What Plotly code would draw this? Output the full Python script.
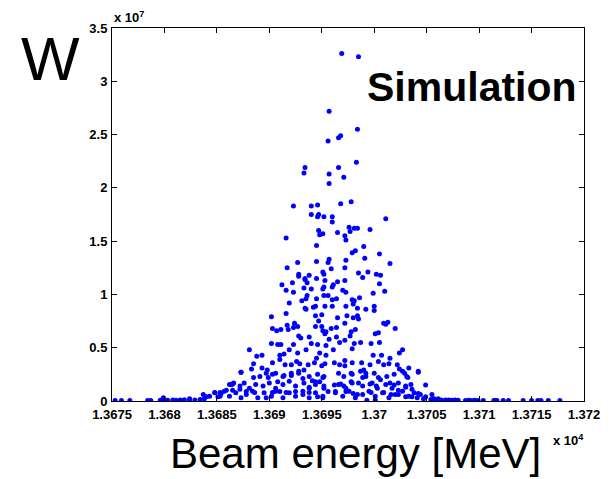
import plotly.graph_objects as go

# Beam energy in MeV, weight W in units of 1e7
peak_energy = [13696.9, 13698.5, 13695.7, 13698.4, 13696.8, 13696.6, 13695.6, 13693.4, 13693.3, 13696.6,
               13698.3, 13695.7, 13697.1, 13695.7, 13692.3, 13694.0, 13694.6, 13696.8, 13697.8, 13694.0,
               13694.7, 13694.6, 13695.2, 13696.0, 13701.1]
peak_w = [3.26, 3.23, 2.72, 2.55, 2.49, 2.47, 2.44, 2.19, 2.14, 2.19,
          2.24, 2.13, 2.10, 2.04, 1.83, 1.83, 1.84, 1.85, 1.87, 1.75,
          1.75, 1.73, 1.73, 1.73, 1.71]

upper_energy = [13696.0, 13691.6, 13694.7, 13695.1, 13694.8, 13696.5, 13697.7, 13697.2, 13697.6, 13698.1,
                13698.4, 13699.6, 13697.3, 13694.5, 13699.0, 13698.2, 13697.9, 13700.5, 13699.1, 13701.5,
                13692.7, 13694.5, 13695.7, 13695.6, 13697.3, 13691.7, 13695.9, 13697.2, 13692.8, 13692.8,
                13693.4, 13693.8, 13694.5, 13695.1, 13695.2, 13695.3, 13696.1, 13696.5, 13697.2, 13698.5,
                13698.9, 13699.4, 13700.2, 13700.6, 13700.5, 13691.2, 13692.2, 13691.6, 13692.3, 13693.4,
                13693.6, 13693.3, 13694.0, 13695.1, 13695.2, 13696.0, 13695.2, 13695.6, 13696.0, 13696.4,
                13697.0, 13697.3, 13697.9, 13698.6, 13699.9, 13701.0, 13693.1, 13693.6, 13693.5, 13694.5,
                13698.1]
upper_w = [1.68, 1.53, 1.60, 1.57, 1.56, 1.58, 1.59, 1.55, 1.63, 1.62,
           1.62, 1.61, 1.51, 1.46, 1.45, 1.41, 1.39, 1.38, 1.34, 1.29,
           1.30, 1.31, 1.33, 1.30, 1.32, 1.25, 1.24, 1.25, 1.19, 1.17,
           1.15, 1.18, 1.15, 1.21, 1.19, 1.13, 1.09, 1.12, 1.13, 1.20,
           1.16, 1.21, 1.19, 1.18, 1.10, 1.09, 1.11, 1.04, 1.02, 1.14,
           1.11, 1.06, 1.05, 1.05, 1.07, 1.07, 0.99, 0.99, 0.95, 0.96,
           1.04, 1.02, 0.95, 0.97, 1.01, 1.03, 0.94, 0.99, 0.96, 0.96,
           0.94]

mid_energy = [13691.9, 13693.5, 13693.4, 13694.2, 13694.4, 13695.3, 13696.0, 13697.3, 13698.0, 13698.4,
              13699.2, 13700.0, 13700.0, 13690.2, 13691.6, 13692.4, 13692.7, 13691.8, 13692.3, 13694.4,
              13695.0, 13694.7, 13694.4, 13695.0, 13695.1, 13695.4, 13695.3, 13695.9, 13696.4, 13696.5,
              13697.4, 13697.2, 13698.0, 13698.4, 13698.5, 13697.8, 13698.2, 13700.9, 13701.3, 13702.0,
              13700.1, 13700.4, 13690.7, 13690.3, 13691.1, 13691.7, 13690.2, 13690.8, 13691.1, 13691.4,
              13691.9, 13692.3, 13692.7, 13692.8, 13693.0, 13693.8, 13694.0, 13693.5, 13694.6, 13694.8,
              13695.4, 13695.7, 13696.4, 13696.7, 13696.1, 13695.4, 13697.2, 13697.7, 13698.1, 13698.7,
              13697.9, 13699.7, 13700.5, 13699.9, 13700.7, 13701.5, 13702.4, 13702.7, 13688.1, 13688.8,
              13689.3, 13691.0, 13694.5, 13701.1]
mid_w = [0.92, 0.86, 0.87, 0.88, 0.89, 0.89, 0.89, 0.89, 0.91, 0.87,
         0.86, 0.89, 0.85, 0.79, 0.82, 0.73, 0.70, 0.67, 0.69, 0.80,
         0.81, 0.75, 0.70, 0.70, 0.66, 0.65, 0.63, 0.68, 0.69, 0.78,
         0.80, 0.73, 0.78, 0.80, 0.77, 0.65, 0.67, 0.73, 0.74, 0.68,
         0.63, 0.64, 0.66, 0.68, 0.67, 0.71, 0.54, 0.53, 0.53, 0.44,
         0.48, 0.53, 0.45, 0.61, 0.59, 0.60, 0.54, 0.48, 0.53, 0.45,
         0.52, 0.58, 0.60, 0.55, 0.48, 0.43, 0.57, 0.61, 0.54, 0.55,
         0.49, 0.54, 0.55, 0.43, 0.43, 0.40, 0.45, 0.48, 0.48, 0.42,
         0.43, 0.43, 0.40, 0.72]

low_energy = [13688.5, 13689.3, 13690.3, 13691.0, 13691.5, 13692.1, 13692.6, 13692.9, 13693.3, 13693.7,
              13694.3, 13695.0, 13695.3, 13696.2, 13696.7, 13697.2, 13697.2, 13697.9, 13697.8, 13698.8,
              13699.0, 13699.6, 13700.4, 13700.9, 13701.4, 13702.2, 13702.4, 13702.9, 13703.2, 13704.2,
              13687.3, 13688.3, 13688.5, 13689.1, 13689.8, 13689.9, 13690.6, 13691.4, 13692.1, 13692.8,
              13693.2, 13695.2, 13698.9, 13699.2, 13700.6, 13703.3,
              13687.3, 13689.7, 13690.3, 13691.3, 13692.1, 13692.8, 13693.8, 13694.6, 13695.1, 13696.6,
              13697.1, 13697.9, 13698.7, 13699.2, 13700.0, 13700.4, 13701.2, 13701.9, 13702.7, 13703.1,
              13704.2]
low_w = [0.35, 0.31, 0.36, 0.39, 0.34, 0.34, 0.37, 0.35, 0.29, 0.34,
         0.36, 0.33, 0.35, 0.36, 0.34, 0.33, 0.38, 0.36, 0.26, 0.36,
         0.29, 0.34, 0.37, 0.34, 0.35, 0.34, 0.30, 0.26, 0.22, 0.27,
         0.27, 0.30, 0.22, 0.23, 0.29, 0.22, 0.26, 0.24, 0.24, 0.26,
         0.21, 0.23, 0.22, 0.26, 0.20, 0.31,
         0.27, 0.26, 0.25, 0.23, 0.26, 0.28, 0.23, 0.25, 0.22, 0.26,
         0.23, 0.25, 0.28, 0.23, 0.26, 0.22, 0.23, 0.25, 0.28, 0.23,
         0.28]

base_energy = [13690.8, 13694.1, 13694.4, 13694.8, 13696.2, 13696.8, 13697.1, 13697.8, 13698.5, 13699.6,
               13700.2, 13701.5, 13701.9, 13702.3, 13703.0, 13703.6, 13704.9, 13686.5, 13686.5, 13687.2,
               13693.8, 13695.2, 13686.2, 13686.6, 13685.9,
               13686.4, 13687.2, 13687.6, 13688.1, 13688.7, 13689.4, 13690.0, 13690.6, 13691.3, 13691.9,
               13692.5, 13693.3, 13693.8, 13694.4, 13695.2, 13696.6, 13697.3, 13697.9, 13698.9, 13699.8,
               13700.3, 13701.1, 13701.7, 13702.3, 13703.0, 13703.5]
base_w = [0.18, 0.19, 0.18, 0.18, 0.15, 0.16, 0.14, 0.18, 0.17, 0.16,
          0.14, 0.17, 0.15, 0.10, 0.13, 0.11, 0.15, 0.16, 0.10, 0.11,
          0.13, 0.12, 0.155, 0.17, 0.10,
          0.155, 0.14, 0.17, 0.12, 0.155, 0.14, 0.17, 0.12, 0.155, 0.185,
          0.14, 0.17, 0.12, 0.155, 0.14, 0.155, 0.12, 0.17, 0.14, 0.17,
          0.12, 0.155, 0.12, 0.17, 0.14, 0.155]

floor_energy = [13685.3, 13685.1, 13684.8, 13684.0, 13683.7, 13687.8, 13688.6, 13689.7, 13690.3, 13691.0,
                13691.6, 13692.5, 13693.2, 13693.8, 13694.6, 13695.6, 13696.3, 13697.3, 13698.0, 13698.4,
                13699.7, 13700.1, 13700.9, 13701.6, 13702.3, 13703.0, 13703.6, 13704.9, 13704.2, 13705.5,
                13706.1, 13706.8, 13685.4, 13684.3,
                13684.8, 13685.3, 13685.7, 13686.2, 13686.8, 13687.3, 13687.8, 13688.4, 13688.9, 13689.5,
                13690.2, 13690.6, 13691.3, 13691.9, 13692.5, 13693.2, 13693.8, 13694.4, 13695.1, 13696.3,
                13697.0, 13697.6, 13698.2, 13698.9, 13699.5, 13700.1, 13700.8, 13701.4, 13702.0, 13702.7,
                13703.3, 13703.8, 13704.1, 13704.4, 13704.7, 13705.4, 13705.7, 13706.0, 13706.4, 13695.1,
                13699.3]
floor_w = [0.08, 0.04, 0.08, 0.04, 0.06, 0.09, 0.08, 0.03, 0.08, 0.09,
           0.08, 0.09, 0.06, 0.08, 0.04, 0.09, 0.09, 0.09, 0.07, 0.06,
           0.08, 0.01, 0.08, 0.06, 0.06, 0.04, 0.04, 0.04, 0.07, 0.06,
           0.02, 0.01, 0.07, 0.045,
           0.077, 0.045, 0.092, 0.045, 0.077, 0.03, 0.061, 0.092, 0.03, 0.077,
           0.045, 0.092, 0.03, 0.077, 0.045, 0.092, 0.03, 0.077, 0.045, 0.077,
           0.045, 0.092, 0.03, 0.061, 0.092, 0.045, 0.077, 0.03, 0.061, 0.092,
           0.045, 0.077, 0.03, 0.061, 0.02, 0.014, 0.02, 0.01, 0.01, 0.03,
           0.008]

tail_energy = [13675.3, 13675.9, 13676.7, 13678.4, 13678.7, 13679.6, 13679.9, 13680.3, 13680.8, 13681.1,
               13681.5, 13681.9, 13682.4, 13682.9, 13683.4, 13683.8, 13679.9, 13682.4,
               13707.1, 13707.4, 13707.7, 13707.9, 13708.0, 13708.7, 13709.0, 13709.2, 13709.5, 13709.6,
               13709.9, 13710.4, 13711.4, 13711.5, 13711.7, 13712.3, 13712.8, 13714.2, 13715.0, 13715.6,
               13715.9, 13716.6, 13717.7]
tail_w = [0.005, 0.005, 0.005, 0.005, 0.005, 0.008, 0.005, 0.008, 0.01, 0.008,
          0.01, 0.012, 0.008, 0.01, 0.015, 0.02, 0.03, 0.02,
          0.01, 0.008, 0.01, 0.005, 0.008, 0.005, 0.008, 0.005, 0.005, 0.008,
          0.005, 0.005, 0.005, 0.005, 0.005, 0.005, 0.005, 0.005, 0.005, 0.005,
          0.005, 0.005, 0.005]

x_ticks = [13675, 13680, 13685, 13690, 13695, 13700, 13705, 13710, 13715, 13720]
x_tick_labels = ["1.3675", "1.368", "1.3685", "1.369", "1.3695", "1.37", "1.3705", "1.371", "1.3715", "1.372"]
y_ticks = [0, 0.5, 1, 1.5, 2, 2.5, 3, 3.5]
y_tick_labels = ["0", "0.5", "1", "1.5", "2", "2.5", "3", "3.5"]

energy = peak_energy + upper_energy + mid_energy + low_energy + base_energy + floor_energy + tail_energy
weight = peak_w + upper_w + mid_w + low_w + base_w + floor_w + tail_w

FONT = "Liberation Sans, Arial, Helvetica, sans-serif"

fig = go.Figure()
fig.add_trace(go.Scatter(
    x=energy, y=weight, mode="markers",
    marker=dict(color="#0000FF", size=5, line=dict(width=0)),
    showlegend=False, hoverinfo="skip",
))

axis_common = dict(
    showgrid=False, zeroline=False, showline=True, linecolor="black", linewidth=1,
    mirror="ticks", ticks="inside", ticklen=5, tickwidth=1, tickcolor="black",
    tickfont=dict(family=FONT, size=13, color="black"),
)
fig.update_xaxes(range=[13675, 13720], tickvals=x_ticks, ticklabelstandoff=1,
                 ticktext=["<b>%s</b>" % t for t in x_tick_labels], **axis_common)
fig.update_yaxes(range=[0, 3.5], tickvals=y_ticks, ticklabelstandoff=1,
                 ticktext=["<b>%s</b>" % t for t in y_tick_labels], **axis_common)

annotations = [
    dict(text="W", x=-0.131, y=0.918, xref="paper", yref="paper", xanchor="center", yanchor="middle",
         showarrow=False, font=dict(family=FONT, size=62, color="black")),
    dict(text="Beam energy [MeV]", x=0.515, y=-0.14, xref="paper", yref="paper", xanchor="center",
         yanchor="middle", showarrow=False, font=dict(family=FONT, size=42, color="black")),
    dict(text="<b>Simulation</b>", x=0.763, y=0.842, xref="paper", yref="paper", xanchor="center",
         yanchor="middle", showarrow=False, font=dict(family=FONT, size=41, color="black")),
    dict(text="<b>x 10<sup>7</sup></b>", x=0.0, y=1.03, xref="paper", yref="paper", xanchor="left",
         yanchor="middle", showarrow=False, font=dict(family=FONT, size=13, color="black")),
    dict(text="<b>x 10<sup>4</sup></b>", x=0.93, y=-0.105, xref="paper", yref="paper", xanchor="left",
         yanchor="middle", showarrow=False, font=dict(family=FONT, size=13, color="black")),
]

fig.update_layout(
    width=612, height=479,
    margin=dict(l=112, r=26, t=28, b=78),
    paper_bgcolor="white", plot_bgcolor="white",
    annotations=annotations,
)

fig.write_html("out.html")
